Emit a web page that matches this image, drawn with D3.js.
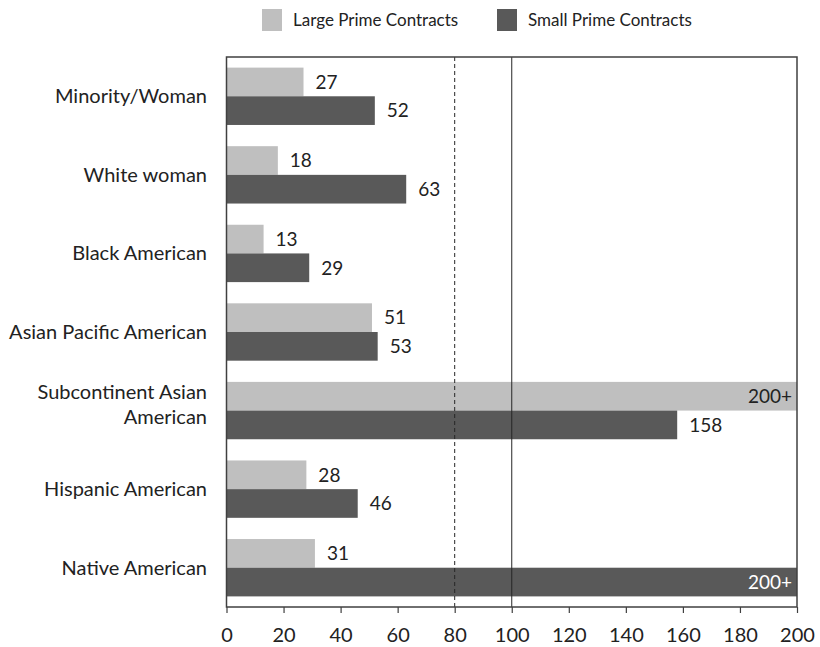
<!DOCTYPE html>
<html>
<head>
<meta charset="utf-8">
<script src="https://cdn.jsdelivr.net/npm/d3@7/dist/d3.min.js"></script>
<style>
  body { margin: 0; background: #fff; }
  svg text { font-family: Lato, "Open Sans", sans-serif; fill: #222; }
</style>
</head>
<body>
<div id="chart"></div>
<script>
// data
const categories = ["Minority/Woman", "White woman", "Black American", "Asian Pacific American",
  "Subcontinent Asian\nAmerican", "Hispanic American", "Native American"];
const seriesNames = ["Large Prime Contracts", "Small Prime Contracts"];
const largeValues = [27, 18, 13, 51, 200, 28, 31];   // 200 = capped "200+"
const smallValues = [52, 63, 29, 53, 158, 46, 200];
const xTicks = [0, 20, 40, 60, 80, 100, 120, 140, 160, 180, 200];
const refLines = [{ value: 80, dashed: true }, { value: 100, dashed: false }];

const COLORS = { "Large Prime Contracts": "#bfbfbf", "Small Prime Contracts": "#595959" };

const width = 820, height = 647;
const margin = { top: 57, right: 23, bottom: 40, left: 226.5 };

const svg = d3.select("#chart").append("svg")
  .attr("width", width)
  .attr("height", height);

const x = d3.scaleLinear()
  .domain([0, 200])
  .range([margin.left, width - margin.right]);

const y = d3.scaleBand()
  .domain(categories)
  .range([margin.top, height - margin.bottom])
  .paddingInner(0.27)
  .paddingOuter(0.135);

const ySub = d3.scaleBand()
  .domain(seriesNames)
  .range([0, y.bandwidth()]);

const rows = categories.map((c, i) => ({
  cat: c,
  values: [
    { series: seriesNames[0], v: largeValues[i] },
    { series: seriesNames[1], v: smallValues[i] }
  ]
}));

const fmt = v => v >= 200 ? "200+" : String(v);

// bars
const groups = svg.append("g").selectAll("g")
  .data(rows)
  .join("g")
  .attr("transform", d => `translate(0,${y(d.cat)})`);

groups.selectAll("rect")
  .data(d => d.values)
  .join("rect")
  .attr("x", x(0))
  .attr("y", d => ySub(d.series))
  .attr("width", d => x(d.v) - x(0))
  .attr("height", ySub.bandwidth())
  .attr("fill", d => COLORS[d.series]);

// value labels
groups.selectAll("text.val")
  .data(d => d.values)
  .join("text")
  .attr("class", "val")
  .attr("x", d => d.v >= 200 ? x(200) - 5 : x(d.v) + 12)
  .attr("y", d => ySub(d.series) + ySub.bandwidth() / 2)
  .attr("dy", "0.36em")
  .attr("text-anchor", d => d.v >= 200 ? "end" : "start")
  .style("font-size", "19px")
  .style("fill", d => (d.v >= 200 && d.series === seriesNames[1]) ? "#ffffff" : "#222")
  .text(d => fmt(d.v));

// reference lines over the bars
svg.append("g").selectAll("line")
  .data(refLines)
  .join("line")
  .attr("x1", d => x(d.value))
  .attr("x2", d => x(d.value))
  .attr("y1", margin.top)
  .attr("y2", height - margin.bottom)
  .attr("stroke", "#262626")
  .attr("stroke-width", 1)
  .attr("stroke-dasharray", d => d.dashed ? "4,3" : null);

// plot frame
svg.append("rect")
  .attr("x", x(0))
  .attr("y", margin.top)
  .attr("width", x(200) - x(0))
  .attr("height", height - margin.bottom - margin.top)
  .attr("fill", "none")
  .attr("stroke", "#404040")
  .attr("stroke-width", 1.5);

// x axis
const xAxis = d3.axisBottom(x).tickValues(xTicks).tickSize(6).tickPadding(15).tickSizeOuter(0);
const xg = svg.append("g")
  .attr("transform", `translate(0,${height - margin.bottom})`)
  .call(xAxis);
xg.select(".domain").remove();
xg.selectAll(".tick line").attr("stroke", "#404040").attr("stroke-width", 1.2);
xg.selectAll(".tick text").style("font-size", "20px").style("font-family", "Lato, sans-serif").attr("fill", "#222");

// category labels
const catLabels = svg.append("g").selectAll("text")
  .data(categories)
  .join("text")
  .attr("text-anchor", "end")
  .attr("x", 207)
  .attr("y", d => y(d) + y.bandwidth() / 2)
  .style("font-size", "20px");

catLabels.each(function(d) {
  const lines = d.split("\n");
  const t = d3.select(this);
  const lh = 25;
  const start = lines.length > 1 ? -lh / 2 - 6 : 0;
  lines.forEach((ln, i) => {
    t.append("tspan")
      .attr("x", 207)
      .attr("dy", i === 0 ? (start + 7) + "px" : lh + "px")
      .text(ln);
  });
});

// legend
const legendX = [262, 497];
const legend = svg.append("g").selectAll("g")
  .data(seriesNames)
  .join("g")
  .attr("transform", (d, i) => `translate(${legendX[i]},9)`);
legend.append("rect")
  .attr("width", 20)
  .attr("height", 22)
  .attr("fill", d => COLORS[d]);
legend.append("text")
  .attr("x", 31)
  .attr("y", 11)
  .attr("dy", "0.36em")
  .style("font-size", "17px")
  .text(d => d);
</script>
</body>
</html>
